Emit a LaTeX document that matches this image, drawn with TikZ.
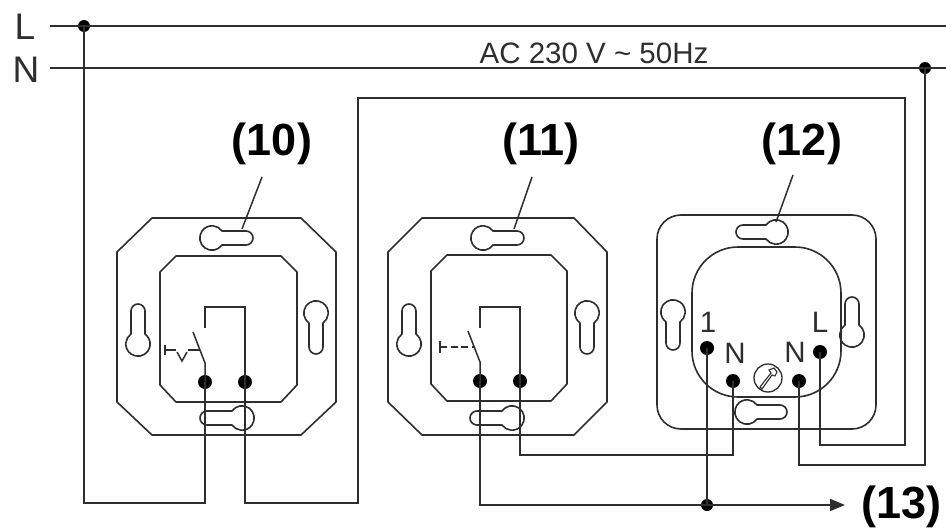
\documentclass[tikz,border=0pt]{standalone}
\usepackage{fontspec}
\setmainfont{Liberation Sans}
\usetikzlibrary{arrows.meta}
\definecolor{ink}{HTML}{2E2E2E}
\tikzset{
  wire/.style={draw=ink,line width=1.5pt},
  outline/.style={draw=ink,line width=1.6pt,line join=round},
  term/.style={circle,fill=black,inner sep=0pt,minimum size=14pt},
  junction/.style={circle,fill=black,inner sep=0pt,minimum size=12pt},
  big/.style={font=\fontsize{37}{37}\selectfont,text=ink,inner sep=0pt},
  small/.style={font=\fontsize{29.5}{30}\selectfont,text=ink,inner sep=0pt},
  tag/.style={font=\fontsize{45}{45}\selectfont\bfseries,text=black,inner sep=0pt},
}
% keyhole: centre x,y ; direction ; slot length from the centre to the far end
\newcommand{\keyh}[4]{%
  \draw[outline,shift={(#1,#2)},rotate=#3]
    (10.0,7) arc (35:325:12.2) -- (#4-7,-7) arc (-90:90:7) -- cycle;}
% octagonal frame
\newcommand{\octa}[8]{%
  \draw[outline] (#3,#5) -- (#4,#5) -- (#2,#7) -- (#2,#8) -- (#4,#6) -- (#3,#6) -- (#1,#8) -- (#1,#7) -- cycle;}
\begin{document}
\begin{tikzpicture}[x=1pt,y=-1pt]
\useasboundingbox (0,0) rectangle (946,530);
\fill[white] (0,0) rectangle (946,530);
% frames
\octa{117}{336}{152}{301}{218}{435}{252}{402}
\octa{160}{297}{176}{281}{256}{402}{272}{385}
\octa{388}{607}{422}{574}{218}{435}{252}{402}
\octa{431}{567}{447}{551}{255}{401}{271}{384}
\draw[outline,rounded corners=24pt] (657,215) rectangle (876,429);
\draw[outline,rounded corners=46pt] (692,247) rectangle (841,397);
% keyholes
\keyh{212}{238}{0}{41}
\keyh{242}{418}{180}{42}
\keyh{138}{344}{90}{40}
\keyh{316}{313}{-90}{41}
\keyh{483}{238}{0}{41}
\keyh{512}{418}{180}{42}
\keyh{409}{344}{90}{40}
\keyh{587}{313}{-90}{41}
\keyh{776}{232}{180}{40}
\keyh{747}{412}{0}{40}
\keyh{673}{312}{-90}{38}
\keyh{852}{335}{90}{38}
% terminals
\node[term] (a1) at (205,382) {};
\node[term] (a2) at (245,382) {};
\node[term] (b1) at (480,381) {};
\node[term] (b2) at (520,381) {};
\node[term] (c1) at (707,348) {};
\node[term] (cn) at (733,381) {};
\node[term] (dn) at (799,381) {};
\node[term] (cl) at (820,352) {};
\node[junction] (jl) at (84,26) {};
\node[junction] (jn) at (925,68) {};
\node[junction] (j1) at (707,505) {};
% free ends
\coordinate (l0) at (50,26); \coordinate (l1) at (946,26);
\coordinate (n0) at (50,68); \coordinate (n1) at (946,68);
\coordinate (ar) at (845,505);
% mains
\draw[wire] (l0) -- (l1);
\draw[wire] (n0) -- (n1);
% wiring
\draw[wire] (jl.center) |- (205,503) -- (a1.center);
\draw[wire] (a2.center) |- (358,503) |- (905,98) |- (820,445) -- (cl.center);
\draw[wire] (jn.center) |- (799,465) -- (dn.center);
\draw[wire] (b2.center) |- (733,455) -- (cn.center);
\draw[wire] (c1.center) -- (j1.center);
\draw[wire,-{Triangle[length=15pt,width=12pt]}] (b1.center) |- (ar);
% switch 10
\draw[wire] (205,328) -- (205,307) -- (245,307) -- (a2.center);
\draw[wire] (193,332) -- (205,363) -- (a1.center);
\draw[wire] (165,345) -- (165,355) (165,350) -- (176,350) (188,350) -- (200,350);
\draw[wire] (177,352) -- (182,361) -- (187,352);
% switch 11
\draw[wire] (480,328) -- (480,307) -- (520,307) -- (b2.center);
\draw[wire] (468,331) -- (480,362) -- (b1.center);
\draw[wire] (440,341) -- (440,353);
\draw[wire,dash pattern=on 7pt off 3.5pt] (440,347) -- (475,347);
% screw
\draw[line width=1.3pt,draw=ink] (768,378) circle (14);
\draw[line width=1.1pt,draw=ink] (760,387) -- (771,373) -- (769,370) -- (774,368) -- (777,372) -- (775,376) -- (772,375) -- (762,389) -- cycle;
% leaders
\coordinate (p10) at (262,177); \coordinate (q10) at (242,229);
\coordinate (p11) at (532,177); \coordinate (q11) at (514,229);
\coordinate (p12) at (793,175); \coordinate (q12) at (776,222);
\draw[wire] (p10) -- (q10);
\draw[wire] (p11) -- (q11);
\draw[wire] (p12) -- (q12);
% text
\node[big] (tL) at (25,27) {L};
\node[big] (tN) at (26,70) {N};
\node[small] (tac) at (594,53) {AC 230 V \char`\~{} 50Hz};
\node[tag] (t10) at (272,144) {(10)};
\node[tag] (t11) at (541,144) {(11)};
\node[tag] (t12) at (802,144) {(12)};
\node[tag,anchor=west] (t13) at (861,507) {(13)};
\node[small] (t1) at (708,322) {1};
\node[small] (tn1) at (735,353) {N};
\node[small] (tn2) at (795,352) {N};
\node[small] (tl2) at (820,322) {L};
\end{tikzpicture}
\end{document}
